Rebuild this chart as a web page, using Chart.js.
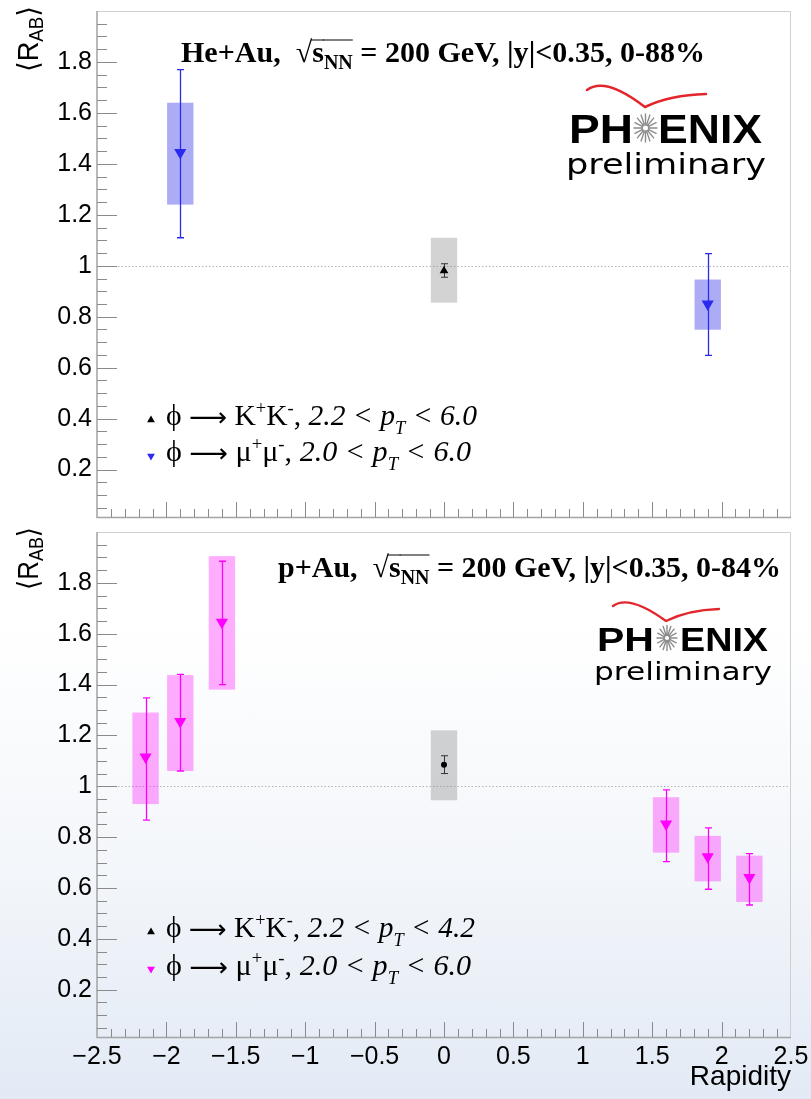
<!DOCTYPE html>
<html>
<head>
<meta charset="utf-8">
<script src="https://cdn.jsdelivr.net/npm/chart.js@4.4.1/dist/chart.umd.min.js"></script>
<style>
  html, body { margin: 0; padding: 0; }
  body {
    width: 811px; height: 1099px; overflow: hidden; position: relative;
    background: linear-gradient(to bottom, #ffffff 0px, #ffffff 620px, #f3f6fa 870px, #e2eaf5 1099px);
  }
  canvas { position: absolute; left: 0; display: block; }
  #heau { top: 0; }
  #pau { top: 525px; }
</style>
</head>
<body>
<canvas id="heau" width="811" height="525"></canvas>
<canvas id="pau" width="811" height="574"></canvas>
<script>
const rapidityTicks = [-2.5, -2, -1.5, -1, -0.5, 0, 0.5, 1, 1.5, 2, 2.5];
const raabTicks = [0.2, 0.4, 0.6, 0.8, 1, 1.2, 1.4, 1.6, 1.8];

// He+Au, phi -> K+K- at mid rapidity
const heKKRap = [0];
const heKKRaa = [0.98];
const heKKStatLo = [0.955];
const heKKStatHi = [1.008];
const heKKSysLo = [0.855];
const heKKSysHi = [1.11];

// He+Au, phi -> mu+mu- backward / forward
const heMuRap = [-1.9, 1.9];
const heMuRaa = [1.445, 0.85];
const heMuStatLo = [1.11, 0.648];
const heMuStatHi = [1.77, 1.048];
const heMuSysLo = [1.24, 0.749];
const heMuSysHi = [1.64, 0.946];

// p+Au, phi -> K+K-
const pKKRap = [0];
const pKKRaa = [1.085];
const pKKStatLo = [1.05];
const pKKStatHi = [1.12];
const pKKSysLo = [0.945];
const pKKSysHi = [1.22];

// p+Au, phi -> mu+mu-
const pMuRap = [-2.15, -1.9, -1.6, 1.6, 1.9, 2.2];
const pMuRaa = [1.115, 1.255, 1.645, 0.852, 0.723, 0.641];
const pMuStatLo = [0.867, 1.06, 1.40, 0.704, 0.595, 0.533];
const pMuStatHi = [1.348, 1.44, 1.885, 0.986, 0.836, 0.735];
const pMuSysLo = [0.93, 1.06, 1.38, 0.739, 0.626, 0.545];
const pMuSysHi = [1.29, 1.437, 1.905, 0.957, 0.805, 0.727];

const sysHalf = 0.095;   // half width of the systematic boxes, in rapidity

const blue = '#2b2bf0';
const blueBox = 'rgba(70,70,235,0.45)';
const magenta = '#ff00ff';
const magentaBox = 'rgba(255,0,255,0.32)';
const grayBox = 'rgba(140,140,140,0.38)';

const sans = (s) => `${s}px 'Liberation Sans', Arial, 'DejaVu Sans', sans-serif`;
const serif = (s, it) => `${it ? 'italic ' : ''}${s}px 'Liberation Serif', 'Times New Roman', 'DejaVu Serif', serif`;
const serifB = (s) => `bold ${s}px 'Liberation Serif', 'Times New Roman', 'DejaVu Serif', serif`;

// --- text helpers ---
function richWidth(ctx, parts) {
  let w = 0;
  parts.forEach(p => { ctx.font = p.font; w += ctx.measureText(p.t).width; });
  return w;
}

function drawRich(ctx, parts, x, y, fitW) {
  const w = richWidth(ctx, parts);
  const sx = fitW ? fitW / w : 1;
  ctx.save();
  ctx.translate(x, y);
  ctx.scale(sx, 1);
  ctx.textBaseline = 'alphabetic';
  ctx.textAlign = 'left';
  let cx = 0;
  parts.forEach(p => {
    ctx.font = p.font;
    ctx.fillStyle = p.color || '#000';
    ctx.fillText(p.t, cx, p.dy || 0);
    const pw = ctx.measureText(p.t).width;
    if (p.over) {
      ctx.strokeStyle = '#000';
      ctx.lineWidth = 1;
      ctx.beginPath();
      ctx.moveTo(cx - 1, -p.over);
      ctx.lineTo(cx + pw, -p.over);
      ctx.stroke();
    }
    cx += pw;
  });
  ctx.restore();
}

function triangle(ctx, x, y, r, down, color) {
  const d = down ? -1 : 1;
  ctx.fillStyle = color;
  ctx.beginPath();
  ctx.moveTo(x, y - d * r);
  ctx.lineTo(x + r * 0.87, y + d * r * 0.5);
  ctx.lineTo(x - r * 0.87, y + d * r * 0.5);
  ctx.closePath();
  ctx.fill();
}

function drawLogo(ctx, L) {
  ctx.save();
  ctx.strokeStyle = '#e3262b';
  ctx.lineWidth = L.arcW;
  ctx.lineCap = 'round';
  ctx.beginPath();
  ctx.moveTo(L.arc[0][0], L.arc[0][1]);
  ctx.quadraticCurveTo(L.arc[1][0], L.arc[1][1], L.arc[2][0], L.arc[2][1]);
  ctx.quadraticCurveTo(L.arc[3][0], L.arc[3][1], L.arc[4][0], L.arc[4][1]);
  ctx.stroke();

  const bold = `bold ${L.size}px 'Liberation Sans', Arial, sans-serif`;
  drawRich(ctx, [{ t: 'PH', font: bold }], L.ph[0], L.base, L.ph[1] - L.ph[0]);
  drawRich(ctx, [{ t: 'ENIX', font: bold }], L.enix[0], L.base, L.enix[1] - L.enix[0]);

  // the "O" is a starburst
  ctx.strokeStyle = '#8c8c8c';
  ctx.lineWidth = 1.4;
  ctx.beginPath();
  for (let k = 0; k < 16; k++) {
    const a = k * Math.PI / 8;
    ctx.moveTo(L.star[0] + Math.cos(a) * L.star[2] * 0.3, L.star[1] + Math.sin(a) * L.star[3] * 0.3);
    ctx.lineTo(L.star[0] + Math.cos(a) * L.star[2], L.star[1] + Math.sin(a) * L.star[3]);
  }
  ctx.stroke();
  ctx.fillStyle = '#fff';
  ctx.beginPath();
  ctx.arc(L.star[0], L.star[1], L.star[2] * 0.28, 0, Math.PI * 2);
  ctx.fill();
  ctx.stroke();

  drawRich(ctx, [{ t: 'preliminary', font: `${L.pSize}px 'DejaVu Sans', Verdana, sans-serif` }],
    L.prelim[0], L.pBase, L.prelim[1] - L.prelim[0]);
  ctx.restore();
}

function legendParts(mode, hi) {
  const main = serif(29), small = serif(18), it = serif(29, true), itSmall = serif(18, true);
  const arrow = "26px 'DejaVu Sans', sans-serif";
  const particle = mode === 'kk' ? 'K' : '\u03BC';
  return [
    { t: '\u03D5 ', font: main },
    { t: '\u27F6', font: arrow, dy: 1 },
    { t: ' ' + particle, font: main },
    { t: '+', font: small, dy: -11 },
    { t: particle, font: main },
    { t: '-', font: small, dy: -11 },
    { t: ', ', font: main },
    { t: (mode === 'kk' ? '2.2' : '2.0') + ' < p', font: it },
    { t: 'T', font: itSmall, dy: 9 },
    { t: ' < ' + hi, font: it }
  ];
}

function titleParts(system, cent) {
  return [
    { t: system + ',  ', font: serifB(30) },
    { t: '\u221A', font: serif(30) },
    { t: 's', font: serifB(30), over: 22 },
    { t: 'NN', font: serifB(20), dy: 7, over: 22 },
    { t: ' = 200 GeV, |y|<0.35, ' + cent, font: serifB(30) }
  ];
}

// ROOT-like frame, inner ticks, systematic boxes, error bars and labels
function panelPlugin(cfg) {
  return {
    id: 'panel_' + cfg.name,
    beforeDatasetsDraw(chart) {
      const { ctx, chartArea: a, scales: { x, y } } = chart;
      ctx.save();
      ctx.strokeStyle = '#b4b4b4';
      ctx.lineWidth = 1;
      ctx.setLineDash([1.5, 2]);
      const y1 = Math.round(y.getPixelForValue(1)) + 0.5;
      ctx.beginPath();
      ctx.moveTo(a.left, y1);
      ctx.lineTo(a.right, y1);
      ctx.stroke();
      ctx.setLineDash([]);

      cfg.series.forEach(s => {
        ctx.fillStyle = s.box;
        s.rap.forEach((r, i) => {
          const x0 = x.getPixelForValue(r - sysHalf), x1 = x.getPixelForValue(r + sysHalf);
          const yt = y.getPixelForValue(s.sysHi[i]), yb = y.getPixelForValue(s.sysLo[i]);
          ctx.fillRect(x0, yt, x1 - x0, yb - yt);
        });
      });
      cfg.series.forEach(s => {
        ctx.strokeStyle = s.line;
        ctx.lineWidth = s.lw;
        s.rap.forEach((r, i) => {
          const px = Math.round(x.getPixelForValue(r)) + 0.5;
          const yt = y.getPixelForValue(s.statHi[i]), yb = y.getPixelForValue(s.statLo[i]);
          ctx.beginPath();
          ctx.moveTo(px, yt); ctx.lineTo(px, yb);
          ctx.moveTo(px - 3.5, yt); ctx.lineTo(px + 3.5, yt);
          ctx.moveTo(px - 3.5, yb); ctx.lineTo(px + 3.5, yb);
          ctx.stroke();
        });
      });
      ctx.restore();
    },
    afterDraw(chart) {
      const { ctx, chartArea: a, scales: { x, y } } = chart;
      ctx.save();
      ctx.strokeStyle = '#cfcfcf';
      ctx.lineWidth = 1;
      ctx.beginPath();
      ctx.moveTo(a.left, a.top + 0.5);
      ctx.lineTo(a.right - 0.5, a.top + 0.5);
      ctx.lineTo(a.right - 0.5, a.bottom);
      ctx.stroke();

      ctx.strokeStyle = '#a3a3a3';
      ctx.lineWidth = 1.5;
      ctx.beginPath();
      ctx.moveTo(a.left, a.top);
      ctx.lineTo(a.left, a.bottom - 0.5);
      ctx.lineTo(a.right, a.bottom - 0.5);
      ctx.stroke();

      ctx.strokeStyle = '#8a8a8a';
      ctx.lineWidth = 1;
      ctx.beginPath();
      for (let k = 1; k < 40; k++) {
        const v = k * 0.05;
        if (v < y.min) continue;
        const py = Math.round(y.getPixelForValue(v)) + 0.5;
        ctx.moveTo(a.left, py);
        ctx.lineTo(a.left + (k % 4 === 0 ? 20 : 10), py);
      }
      for (let k = -24; k <= 24; k++) {
        const px = Math.round(x.getPixelForValue(k / 10)) + 0.5;
        ctx.moveTo(px, a.bottom - 1);
        ctx.lineTo(px, a.bottom - 1 - (k % 5 === 0 ? 15 : 8));
      }
      ctx.stroke();

      // y axis title <R_AB>
      ctx.save();
      ctx.translate(cfg.yTitle[0], cfg.yTitle[1]);
      ctx.rotate(-Math.PI / 2);
      drawRich(ctx, [
        { t: '\u27E8R', font: sans(29) },
        { t: 'AB', font: sans(20), dy: 5 },
        { t: '\u27E9', font: sans(29) }
      ], 0, 0, cfg.yTitle[2]);
      ctx.restore();

      drawRich(ctx, cfg.title, cfg.titlePos[0], cfg.titlePos[1], cfg.titlePos[2]);
      drawLogo(ctx, cfg.logo);

      cfg.legend.forEach(l => {
        triangle(ctx, l.mark[0], l.mark[1], l.mark[2], l.down, l.color);
        drawRich(ctx, l.parts, l.x, l.base, l.w);
      });
      ctx.restore();
    }
  };
}

function pointSet(rap, raa, style, radius, color, rotation) {
  return {
    data: rap.map((r, i) => ({ x: r, y: raa[i] })),
    pointStyle: style,
    pointRadius: radius,
    pointRotation: rotation || 0,
    pointBackgroundColor: color,
    pointBorderColor: color,
    pointBorderWidth: 0
  };
}

function makeChart(id, datasets, cfg, withXLabels) {
  return new Chart(document.getElementById(id), {
    type: 'scatter',
    data: { datasets },
    plugins: [panelPlugin(cfg)],
    options: {
      responsive: false,
      animation: false,
      devicePixelRatio: 1,
      layout: { padding: cfg.padding },
      plugins: { legend: { display: false }, tooltip: { enabled: false } },
      scales: {
        x: {
          type: 'linear',
          min: -2.5,
          max: 2.5,
          display: withXLabels,
          grid: { display: false, drawTicks: false },
          border: { display: false },
          afterBuildTicks: (s) => { s.ticks = rapidityTicks.map(v => ({ value: v })); },
          afterFit: (s) => { s.height = withXLabels ? 61 : 0; s.paddingLeft = 0; s.paddingRight = 0; },
          ticks: {
            padding: 4,
            color: '#000',
            font: { family: "'Liberation Sans', Arial, sans-serif", size: 25 },
            maxRotation: 0,
            autoSkip: false,
            callback: (v) => (v < 0 ? '\u2212' + Math.abs(v) : String(v))
          },
          title: {
            display: true,
            text: 'Rapidity',
            align: 'end',
            color: '#000',
            padding: { top: 0, bottom: 5 },
            font: { family: "'Liberation Sans', Arial, sans-serif", size: 28 }
          }
        },
        y: {
          type: 'linear',
          min: 0.01,
          max: 2.0,
          grid: { display: false, drawTicks: false },
          border: { display: false },
          afterBuildTicks: (s) => { s.ticks = raabTicks.map(v => ({ value: v })); },
          afterFit: (s) => { s.width = 97; s.paddingTop = 0; s.paddingBottom = 0; },
          ticks: {
            padding: 5,
            color: '#000',
            font: { family: "'Liberation Sans', Arial, sans-serif", size: 25 },
            callback: (v) => (v === 1 ? '1' : v.toFixed(1))
          }
        }
      }
    }
  });
}

makeChart('heau', [
  pointSet(heKKRap, heKKRaa, 'triangle', 5, '#000'),
  pointSet(heMuRap, heMuRaa, 'triangle', 7, blue, 180)
], {
  name: 'heau',
  padding: { top: 11, right: 20, bottom: 1, left: 0 },
  series: [
    { rap: heKKRap, statLo: heKKStatLo, statHi: heKKStatHi, sysLo: heKKSysLo, sysHi: heKKSysHi, box: grayBox, line: '#333', lw: 1 },
    { rap: heMuRap, statLo: heMuStatLo, statHi: heMuStatHi, sysLo: heMuSysLo, sysHi: heMuSysHi, box: blueBox, line: blue, lw: 1.3 }
  ],
  yTitle: [38, 72, 66],
  title: titleParts('He+Au', '0-88%'),
  titlePos: [181, 62, 524],
  logo: {
    arc: [[587, 90], [605, 76], [645, 107], [670, 95], [706, 94]], arcW: 2.5,
    ph: [569, 633], enix: [658, 762], base: 143, size: 40,
    star: [645.5, 128, 11.5, 14],
    prelim: [566, 766], pBase: 174, pSize: 28
  },
  legend: [
    { mark: [151, 420, 4.5], down: false, color: '#000', parts: legendParts('kk', '6.0'), x: 166, base: 425, w: 311 },
    { mark: [151, 456, 4.5], down: true, color: blue, parts: legendParts('mm', '6.0'), x: 166, base: 461, w: 305 }
  ]
}, false);

makeChart('pau', [
  pointSet(pKKRap, pKKRaa, 'circle', 3, '#000'),
  pointSet(pMuRap, pMuRaa, 'triangle', 7, magenta, 180)
], {
  name: 'pau',
  padding: { top: 0, right: 20, bottom: 0, left: 0 },
  series: [
    { rap: pKKRap, statLo: pKKStatLo, statHi: pKKStatHi, sysLo: pKKSysLo, sysHi: pKKSysHi, box: grayBox, line: '#333', lw: 1 },
    { rap: pMuRap, statLo: pMuStatLo, statHi: pMuStatHi, sysLo: pMuSysLo, sysHi: pMuSysHi, box: magentaBox, line: magenta, lw: 1.3 }
  ],
  yTitle: [38, 65, 63],
  title: titleParts('p+Au', '0-84%'),
  titlePos: [278, 52, 503],
  logo: {
    arc: [[613, 81], [629, 69], [666, 96], [688, 85], [719, 84]], arcW: 2.3,
    ph: [597, 654], enix: [680, 768], base: 126, size: 34,
    star: [667, 113, 10, 12.5],
    prelim: [594, 772], pBase: 155, pSize: 25
  },
  legend: [
    { mark: [151, 407, 4.5], down: false, color: '#000', parts: legendParts('kk', '4.2'), x: 166, base: 412, w: 309 },
    { mark: [151, 444, 4.5], down: true, color: magenta, parts: legendParts('mm', '6.0'), x: 166, base: 450, w: 305 }
  ]
}, true);
</script>
</body>
</html>
